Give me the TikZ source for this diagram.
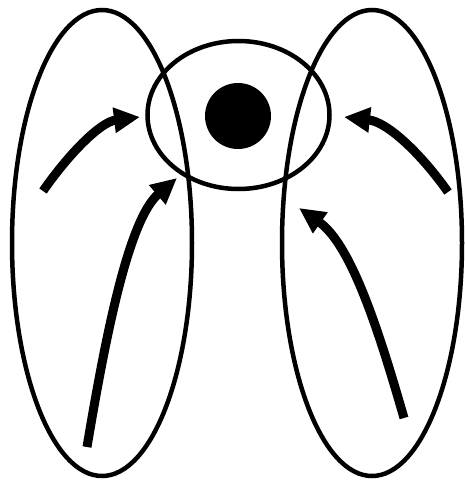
\documentclass[tikz,border=0pt]{standalone}
\usetikzlibrary{arrows.meta,shapes.geometric}
\begin{document}
\begin{tikzpicture}[x=1pt,y=-1pt,
  ring/.style={draw=black,line width=4.5pt,ellipse,inner sep=0pt},
  flow/.style={line width=9pt,-{Triangle[length=26pt,width=24pt]}}]
\useasboundingbox (0,0) rectangle (465,480);
\node[ring,minimum width=180pt,minimum height=466pt] (L) at (102,243) {};
\node[ring,minimum width=180pt,minimum height=466pt] (R) at (372,243) {};
\node[ring,minimum width=182pt,minimum height=148pt] (C) at (238.5,115) {};
\node[circle,fill=black,minimum size=66pt,inner sep=0pt] (D) at (238,116) {};
\coordinate (a1) at (43,191);
\coordinate (a1e) at (140,117);
\coordinate (a2) at (87,447);
\coordinate (a2e) at (177,178);
\coordinate (a3) at (448,192);
\coordinate (a3e) at (344,117);
\coordinate (a4) at (404,418);
\coordinate (a4e) at (299,208);
\draw[flow] (a1) .. controls (68,155) and (100,122) .. (a1e);
\draw[flow] (a2) .. controls (105,340) and (128,220) .. (a2e);
\draw[flow] (a3) .. controls (422,155) and (388,122) .. (a3e);
\draw[flow] (a4) .. controls (380,335) and (352,245) .. (a4e);
\end{tikzpicture}
\end{document}
